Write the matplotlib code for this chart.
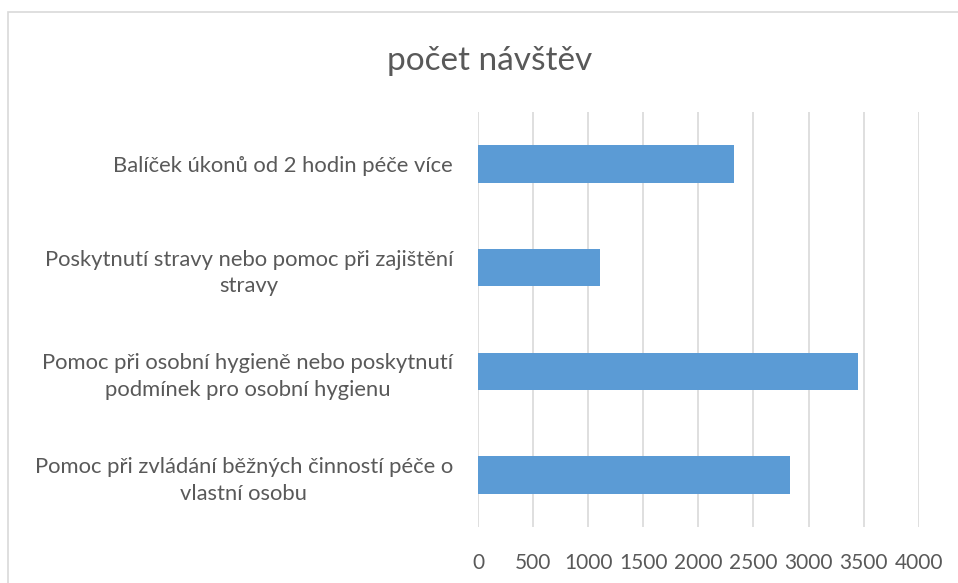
import matplotlib.pyplot as plt
from matplotlib.patches import Rectangle
import numpy as np

# data, top to bottom as in the chart
categories = [
    "Balíček úkonů od 2 hodin péče více",
    "Poskytnutí stravy nebo pomoc při zajištění\nstravy",
    "Pomoc při osobní hygieně nebo poskytnutí\npodmínek pro osobní hygienu",
    "Pomoc při zvládání běžných činností péče o\nvlastní osobu",
]
visits = [2320, 1110, 3450, 2830]
x_ticks = [0, 500, 1000, 1500, 2000, 2500, 3000, 3500, 4000]

title = "počet návštěv"
bar_color = "#5B9BD5"
text_color = "#595959"
grid_color = "#D9D9D9"

plt.rcParams["font.family"] = ["Lato", "DejaVu Sans"]

fig = plt.figure(figsize=(9.58, 5.83), dpi=100)
ax = fig.add_axes([478 / 958, 1 - 527 / 583, (918.7 - 478) / 958, (527 - 112) / 583])

y = np.arange(len(categories))
ax.barh(y, visits, height=0.36, color=bar_color, zorder=3)
ax.set_ylim(len(categories) - 0.5, -0.5)
ax.set_xlim(0, 4000)

ax.set_xticks(x_ticks)
ax.set_xticklabels([str(t) for t in x_ticks])
ax.set_yticks(y)
ax.set_yticklabels(categories)
for lbl in ax.get_yticklabels():
    lbl.set_multialignment("center")
    lbl.set_linespacing(1.4)

ax.tick_params(axis="x", length=0, pad=19, labelsize=15, labelcolor=text_color)
ax.tick_params(axis="y", length=0, pad=18, labelsize=15.8, labelcolor=text_color)

ax.grid(axis="x", color=grid_color, linewidth=1.2, zorder=0)
for s in ax.spines.values():
    s.set_visible(False)

fig.text(490 / 958, 1 - 61 / 583, title, ha="center", va="center",
         fontsize=24, color=text_color)

# chart frame
fig.patches.append(Rectangle((8 / 958, -0.05), 1.1, 1.05 - 12 / 583,
                             transform=fig.transFigure, fill=False,
                             edgecolor=grid_color, linewidth=1.2))

fig.savefig("out.png", dpi=100)
